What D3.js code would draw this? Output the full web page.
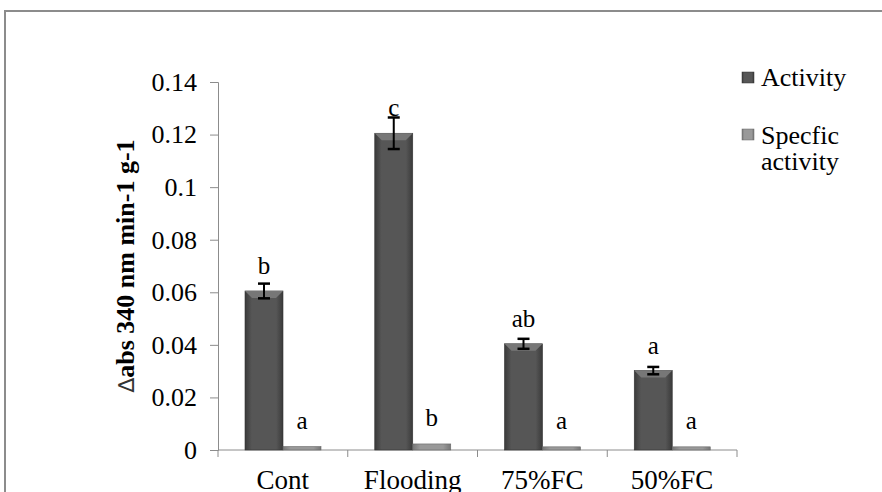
<!DOCTYPE html>
<html>
<head>
<meta charset="utf-8">
<script src="https://cdn.jsdelivr.net/npm/d3@7"></script>
<style>
  body { margin: 0; background: #fff; }
  text { font-family: "Liberation Serif", "Times New Roman", serif; fill: #000; }
</style>
</head>
<body>
<div id="chart"></div>
<script>
const categories = ["Cont", "Flooding", "75%FC", "50%FC"];
const seriesNames = ["Activity", "Specfic activity"];
const activity = [0.0605, 0.1205, 0.0404, 0.0302];
const activityErr = [0.0028, 0.006, 0.0019, 0.0014];
const specific = [0.0013, 0.0023, 0.0012, 0.0012];
const activityLetters = ["b", "c", "ab", "a"];
const specificLetters = ["a", "b", "a", "a"];
const yTicks = [0, 0.02, 0.04, 0.06, 0.08, 0.1, 0.12, 0.14];

const width = 882, height = 492;

const svg = d3.select("#chart").append("svg")
    .attr("width", width)
    .attr("height", height);

const defs = svg.append("defs");
const grad1 = defs.append("linearGradient").attr("id", "gAct");
grad1.append("stop").attr("offset", "0%").attr("stop-color", "#3a3a3a");
grad1.append("stop").attr("offset", "18%").attr("stop-color", "#565656");
grad1.append("stop").attr("offset", "82%").attr("stop-color", "#565656");
grad1.append("stop").attr("offset", "100%").attr("stop-color", "#3a3a3a");
const grad2 = defs.append("linearGradient").attr("id", "gSpec");
grad2.append("stop").attr("offset", "0%").attr("stop-color", "#777");
grad2.append("stop").attr("offset", "20%").attr("stop-color", "#999");
grad2.append("stop").attr("offset", "80%").attr("stop-color", "#999");
grad2.append("stop").attr("offset", "100%").attr("stop-color", "#777");

// outer frame
svg.append("rect")
    .attr("x", 5).attr("y", 11)
    .attr("width", 900).attr("height", 520)
    .attr("fill", "none")
    .attr("stroke", "#8c8c8c")
    .attr("stroke-width", 2);

const x = d3.scaleBand()
    .domain(categories)
    .range([218, 737]);

const x1 = d3.scaleBand()
    .domain(seriesNames)
    .range([27, 103]);

const y = d3.scaleLinear()
    .domain([0, 0.14])
    .range([450, 82]);

// y axis
const yAxis = svg.append("g")
    .attr("transform", "translate(218,0)")
    .call(d3.axisLeft(y).tickValues(yTicks).tickSize(8).tickPadding(13)
        .tickFormat(d => d === 0 ? "0" : d3.format("")(+d.toFixed(2))));
yAxis.select(".domain").attr("stroke", "#8c8c8c");
yAxis.selectAll(".tick line").attr("stroke", "#8c8c8c");
yAxis.selectAll("text")
    .style("font-family", "'Liberation Serif', serif")
    .style("font-size", "26px")
    .attr("fill", "#000");

// x axis line and ticks between categories
svg.append("line")
    .attr("x1", x.range()[0]).attr("x2", x.range()[1])
    .attr("y1", y(0)).attr("y2", y(0))
    .attr("stroke", "#8c8c8c");
const bounds = categories.map(c => x(c)).concat([x.range()[1]]);
svg.selectAll(".xtick")
    .data(bounds)
    .enter().append("line")
    .attr("x1", d => d).attr("x2", d => d)
    .attr("y1", y(0)).attr("y2", y(0) + 7)
    .attr("stroke", "#8c8c8c");

svg.selectAll(".xlabel")
    .data(categories)
    .enter().append("text")
    .attr("x", d => x(d) + x.bandwidth() / 2)
    .attr("y", 489)
    .attr("text-anchor", "middle")
    .style("font-size", "27px")
    .text(d => d);

// bars
const groups = svg.selectAll(".grp")
    .data(categories)
    .enter().append("g")
    .attr("transform", d => "translate(" + x(d) + ",0)");

groups.append("rect")
    .attr("x", x1("Activity"))
    .attr("width", x1.bandwidth())
    .attr("y", (d, i) => y(activity[i]))
    .attr("height", (d, i) => y(0) - y(activity[i]))
    .attr("fill", "url(#gAct)")
    .attr("stroke", "#333")
    .attr("stroke-width", 0.6);

// top bevel highlight
groups.append("path")
    .attr("d", (d, i) => {
        const x0 = x1("Activity"), w = x1.bandwidth(), t = y(activity[i]);
        return "M" + x0 + "," + t + "L" + (x0 + w) + "," + t +
            "L" + (x0 + w - 7) + "," + (t + 7) + "L" + (x0 + 7) + "," + (t + 7) + "Z";
    })
    .attr("fill", "#777");

groups.append("rect")
    .attr("x", x1("Specfic activity"))
    .attr("width", x1.bandwidth())
    .attr("y", (d, i) => y(specific[i]))
    .attr("height", (d, i) => y(0) - y(specific[i]))
    .attr("fill", "url(#gSpec)")
    .attr("stroke", "#666")
    .attr("stroke-width", 0.6);

// error bars
const cx = x1("Activity") + x1.bandwidth() / 2;
groups.append("line")
    .attr("x1", cx).attr("x2", cx)
    .attr("y1", (d, i) => y(activity[i] + activityErr[i]))
    .attr("y2", (d, i) => y(activity[i] - activityErr[i]))
    .attr("stroke", "#000").attr("stroke-width", 2);
groups.append("line")
    .attr("x1", cx - 6).attr("x2", cx + 6)
    .attr("y1", (d, i) => y(activity[i] + activityErr[i]))
    .attr("y2", (d, i) => y(activity[i] + activityErr[i]))
    .attr("stroke", "#000").attr("stroke-width", 2.5);
groups.append("line")
    .attr("x1", cx - 6).attr("x2", cx + 6)
    .attr("y1", (d, i) => y(activity[i] - activityErr[i]))
    .attr("y2", (d, i) => y(activity[i] - activityErr[i]))
    .attr("stroke", "#000").attr("stroke-width", 2.5);

// letters
groups.append("text")
    .attr("x", cx)
    .attr("y", (d, i) => y(activity[i]) - 17)
    .attr("text-anchor", "middle")
    .style("font-size", "25px")
    .text((d, i) => activityLetters[i]);
groups.append("text")
    .attr("x", x1("Specfic activity") + x1.bandwidth() / 2)
    .attr("y", (d, i) => y(specific[i]) - 18)
    .attr("text-anchor", "middle")
    .style("font-size", "25px")
    .text((d, i) => specificLetters[i]);

// y label
const ylab = svg.append("text")
    .attr("transform", "translate(134,266) rotate(-90)")
    .attr("text-anchor", "middle")
    .style("font-size", "26px");
ylab.append("tspan").text("\u2206").style("font-weight", "normal").style("font-family", "'DejaVu Sans'").style("font-size", "22px").attr("fill", "#333");
ylab.append("tspan").text("abs 340 nm min-1 g-1").style("font-weight", "bold");

// legend
const legend = svg.append("g");
legend.append("rect").attr("x", 742).attr("y", 72).attr("width", 12).attr("height", 11)
    .attr("fill", "url(#gAct)").attr("stroke", "#333").attr("stroke-width", 0.5);
legend.append("text").attr("x", 761).attr("y", 86).style("font-size", "26px").text(seriesNames[0]);
legend.append("rect").attr("x", 742).attr("y", 129).attr("width", 12).attr("height", 11)
    .attr("fill", "url(#gSpec)").attr("stroke", "#666").attr("stroke-width", 0.5);
const lt = legend.append("text").attr("x", 761).attr("y", 144).style("font-size", "26px");
lt.append("tspan").attr("x", 761).text("Specfic");
lt.append("tspan").attr("x", 761).attr("dy", 26).text("activity");
</script>
</body>
</html>
